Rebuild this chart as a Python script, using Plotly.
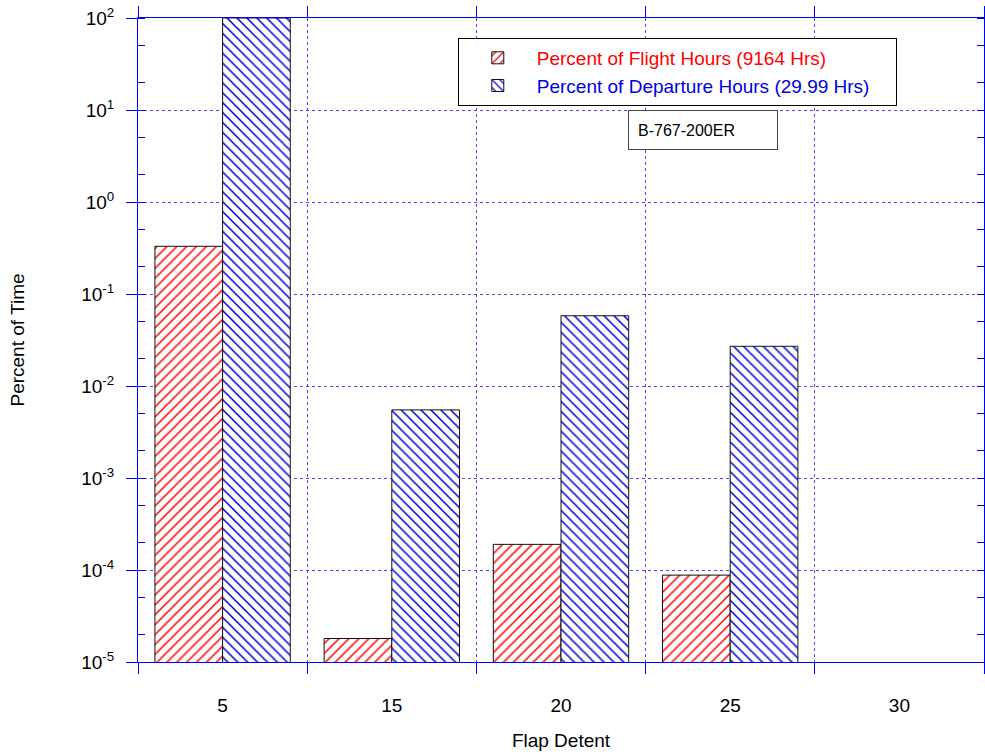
import plotly.graph_objects as go

categories = ["5", "15", "20", "25", "30"]
flight_pct = [0.33, 1.8e-5, 1.9e-4, 8.8e-5, None]
departure_pct = [100, 0.0055, 0.058, 0.027, None]
ytick_vals = [1e-5, 1e-4, 1e-3, 1e-2, 1e-1, 1, 10, 100]
ytick_text = ["10<sup>-5</sup>", "10<sup>-4</sup>", "10<sup>-3</sup>", "10<sup>-2</sup>",
              "10<sup>-1</sup>", "10<sup>0</sup>", "10<sup>1</sup>", "10<sup>2</sup>"]

RED = "#ff0000"
BLUE = "#0000e0"
GRID = "rgba(40,40,255,0.85)"
FONT = "Liberation Sans, Arial, sans-serif"

fig = go.Figure()
fig.add_trace(go.Bar(
    x=categories, y=flight_pct,
    name="<span style='color:%s'>Percent of Flight Hours (9164 Hrs)</span>" % RED,
    marker=dict(color="white", line=dict(color="#111", width=1),
                pattern=dict(shape="/", fgcolor=RED, bgcolor="white", size=7,
                             solidity=0.22, fgopacity=1)),
))
fig.add_trace(go.Bar(
    x=categories, y=departure_pct,
    name="<span style='color:%s'>Percent of Departure Hours (29.99 Hrs)</span>&nbsp;&nbsp;&nbsp;&nbsp;" % BLUE,
    marker=dict(color="white", line=dict(color="#111", width=1),
                pattern=dict(shape="\\", fgcolor=BLUE, bgcolor="white", size=7,
                             solidity=0.22, fgopacity=1)),
))

fig.update_layout(
    width=985, height=755,
    margin=dict(l=138, r=1, t=18, b=93),
    paper_bgcolor="white", plot_bgcolor="white",
    font=dict(family=FONT, size=18, color="black"),
    barmode="group", bargap=0.2, bargroupgap=0,
    showlegend=True,
    legend=dict(x=0.378, y=0.969, xanchor="left", yanchor="top",
                bgcolor="white", bordercolor="black", borderwidth=1,
                font=dict(size=19), itemwidth=68, tracegroupgap=2),
    annotations=[dict(
        text="B-767-200ER", x=0.665, y=0.826, xref="paper", yref="paper",
        xanchor="center", yanchor="middle",
        showarrow=False, font=dict(size=16, color="black"),
        bordercolor="#444", borderwidth=1, width=130, height=20, borderpad=9,
        bgcolor="white", align="left", xshift=2,
    )],
)

fig.update_xaxes(
    type="category", range=[-0.5, 4.5], automargin=False,
    tickson="boundaries", ticks="outside", ticklen=11, tickcolor="blue",
    showline=True, linecolor="blue", linewidth=1, mirror="ticks",
    showgrid=True, gridcolor=GRID, griddash="3px,3px", gridwidth=1,
    tickfont=dict(size=19), ticklabelstandoff=26,
    title=dict(text="Flap Detent", font=dict(size=19), standoff=18),
)
fig.update_yaxes(
    type="log", range=[-5, 2], automargin=False,
    tickvals=ytick_vals, ticktext=ytick_text,
    ticks="outside", ticklen=11, tickcolor="blue",
    minor=dict(ticks="inside", ticklen=7, tickcolor="blue", showgrid=False),
    showline=True, linecolor="blue", linewidth=1, mirror="ticks",
    showgrid=True, gridcolor=GRID, griddash="3px,3px", gridwidth=1,
    tickfont=dict(size=19), ticklabelstandoff=8,
    title=dict(text="Percent of Time", font=dict(size=19), standoff=51),
)

fig.write_html("out.html", post_script="document.body.style.margin='0px';",
               config={"displayModeBar": False})
